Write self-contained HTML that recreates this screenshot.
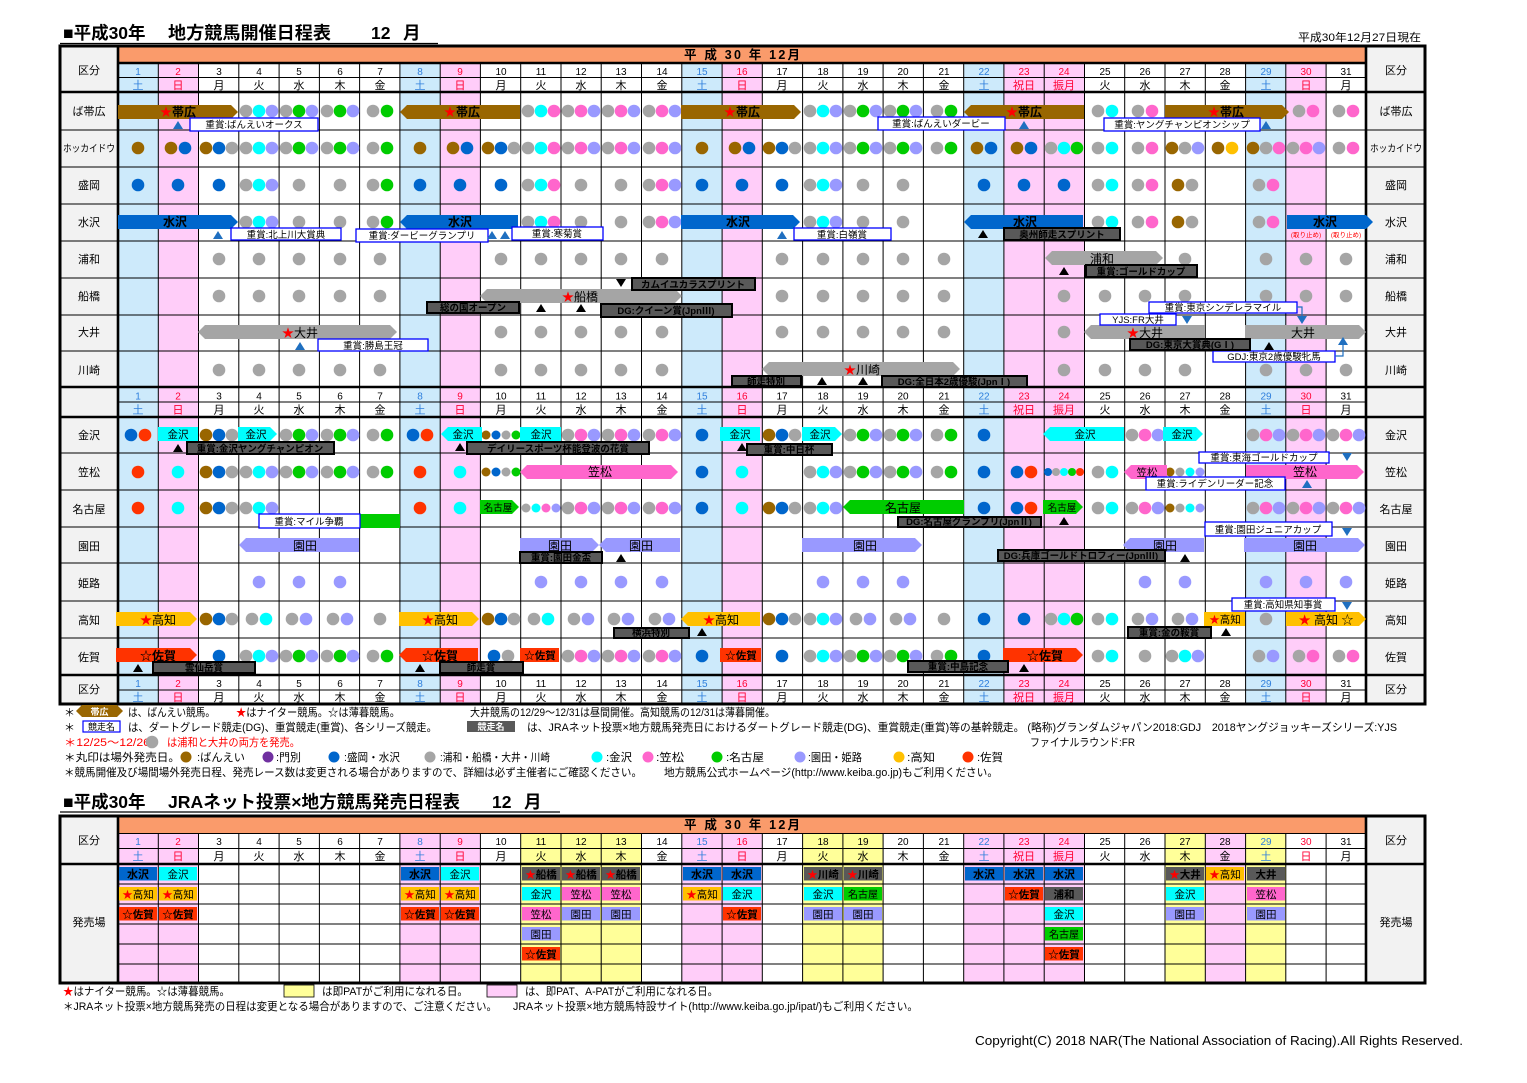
<!DOCTYPE html>
<html><head><meta charset="utf-8"><style>
html,body{margin:0;padding:0;background:#fff;}
svg{display:block}
text{font-family:"Liberation Sans","Noto Sans CJK JP",sans-serif;fill:#000}
.gy{fill:#a5a5a5}.br{fill:#996600}.bl{fill:#0066cc}.cy{fill:#00ffff}.pk{fill:#ff66cc}.gr{fill:#00cc00}.lv{fill:#9999ff}.or{fill:#ffc000}.rd{fill:#ff3300}.pu{fill:#7030a0}.dg{fill:#595959}
.lb{font-size:11px;text-anchor:middle}
.dn{font-size:10px;text-anchor:middle}
.sa{fill:#2f7fdc}.su{fill:#ff0033}
.bb{fill:#fff;stroke:#0000ff;stroke-width:1.3}
.db{fill:#595959;stroke:#000;stroke-width:2}
.bt{font-size:9.5px;text-anchor:middle}
.dt{font-size:9.5px;text-anchor:middle;fill:#fff;font-weight:bold}
.wt{fill:#fff;font-weight:bold;font-size:12px;text-anchor:middle}
.kt{fill:#222;font-size:12px;text-anchor:middle}
.ks{fill:#222;font-size:10.5px;text-anchor:middle}
.st{fill:#ff0000}
.lg{font-size:11px}
.ti{font-size:17.5px;font-weight:bold}
</style></head><body>
<svg width="1527" height="1083" viewBox="0 0 1527 1083" xmlns="http://www.w3.org/2000/svg">
<rect width="1527" height="1083" fill="#fff"/>

<!-- ===== TITLE 1 ===== -->
<text class="ti" x="63" y="39">■平成30年</text>
<text class="ti" x="168" y="39" textLength="163" lengthAdjust="spacingAndGlyphs">地方競馬開催日程表</text>
<text class="ti" x="371" y="39">12</text>
<text class="ti" x="403" y="39">月</text>
<line x1="60" y1="43.5" x2="438" y2="43.5" stroke="#000" stroke-width="1.2"/>
<text x="1298" y="41" font-size="11" textLength="123" lengthAdjust="spacingAndGlyphs">平成30年12月27日現在</text>

<!-- ===== TOP TABLE BACKGROUND ===== -->
<rect x="60" y="46" width="1365" height="658" fill="#fff"/>
<rect x="60" y="46" width="58" height="658" fill="#f2f2f2"/>
<rect x="1366" y="46" width="59" height="658" fill="#f2f2f2"/>
<g fill="#cdeafb">
<rect x="118" y="63" width="40.3" height="641"/><rect x="399.9" y="63" width="40.3" height="641"/><rect x="681.8" y="63" width="40.3" height="641"/><rect x="963.7" y="63" width="40.3" height="641"/><rect x="1245.6" y="63" width="40.3" height="641"/>
</g>
<g fill="#ffcdf9">
<rect x="158.3" y="63" width="40.3" height="641"/><rect x="440.2" y="63" width="40.3" height="641"/><rect x="722.1" y="63" width="40.3" height="641"/><rect x="1003.9" y="63" width="80.6" height="641"/><rect x="1285.8" y="63" width="40.3" height="641"/>
</g>
<rect x="118" y="47" width="1248" height="16" fill="#fa9b6b"/>
<text x="684" y="59" font-size="12.5" font-weight="bold" textLength="116" lengthAdjust="spacing">平 成 30 年 12月</text>

<!-- grid -->
<path d="M158.3 63V704M198.5 63V704M238.8 63V704M279.1 63V704M319.4 63V704M359.6 63V704M399.9 63V704M440.2 63V704M480.4 63V704M520.7 63V704M561 63V704M601.2 63V704M641.5 63V704M681.8 63V704M722.1 63V704M762.3 63V704M802.6 63V704M842.9 63V704M883.1 63V704M923.4 63V704M963.7 63V704M1003.9 63V704M1044.2 63V704M1084.5 63V704M1124.7 63V704M1165 63V704M1205.3 63V704M1245.6 63V704M1285.8 63V704M1326.1 63V704" stroke="#000" stroke-width="1" fill="none"/>
<path d="M118 77.5H1366M118 402H1366M118 690H1366M60 130H1425M60 167H1425M60 204H1425M60 241H1425M60 278H1425M60 315H1425M60 351H1425M60 453H1425M60 490H1425M60 527H1425M60 563H1425M60 601H1425M60 638H1425" stroke="#000" stroke-width="1" fill="none"/>
<path d="M118 63H1366M60 92H1425M60 387H1425M60 417H1425M60 675H1425M118 46V704M1366 46V704" stroke="#000" stroke-width="2.6" fill="none"/>
<rect x="60" y="46" width="1365" height="658" fill="none" stroke="#000" stroke-width="3"/>

<!-- label columns -->
<g class="lb">
<text x="89" y="74">区分</text><text x="1396" y="74">区分</text>
<text x="89" y="115">ば帯広</text><text x="1396" y="115">ば帯広</text>
<text x="63" y="152" font-size="10" style="text-anchor:start" textLength="52" lengthAdjust="spacingAndGlyphs">ホッカイドウ</text><text x="1370" y="152" font-size="10" style="text-anchor:start" textLength="52" lengthAdjust="spacingAndGlyphs">ホッカイドウ</text>
<text x="89" y="189">盛岡</text><text x="1396" y="189">盛岡</text>
<text x="89" y="226">水沢</text><text x="1396" y="226">水沢</text>
<text x="89" y="263">浦和</text><text x="1396" y="263">浦和</text>
<text x="89" y="300">船橋</text><text x="1396" y="300">船橋</text>
<text x="89" y="336">大井</text><text x="1396" y="336">大井</text>
<text x="89" y="374">川崎</text><text x="1396" y="374">川崎</text>
<text x="89" y="439">金沢</text><text x="1396" y="439">金沢</text>
<text x="89" y="476">笠松</text><text x="1396" y="476">笠松</text>
<text x="89" y="513">名古屋</text><text x="1396" y="513">名古屋</text>
<text x="89" y="550">園田</text><text x="1396" y="550">園田</text>
<text x="89" y="587">姫路</text><text x="1396" y="587">姫路</text>
<text x="89" y="624">高知</text><text x="1396" y="624">高知</text>
<text x="89" y="661">佐賀</text><text x="1396" y="661">佐賀</text>
<text x="89" y="693">区分</text><text x="1396" y="693">区分</text>
</g>

<!-- header rows (top) -->
<g class="dn" transform="translate(0,75)">
<text class="sa" x="138">1</text><text class="su" x="178">2</text><text x="219">3</text><text x="259">4</text><text x="299">5</text><text x="340">6</text><text x="380">7</text><text class="sa" x="420">8</text><text class="su" x="460">9</text><text x="501">10</text><text x="541">11</text><text x="581">12</text><text x="621">13</text><text x="662">14</text><text class="sa" x="702">15</text><text class="su" x="742">16</text><text x="782">17</text><text x="823">18</text><text x="863">19</text><text x="903">20</text><text x="944">21</text><text class="sa" x="984">22</text><text class="su" x="1024">23</text><text class="su" x="1064">24</text><text x="1105">25</text><text x="1145">26</text><text x="1185">27</text><text x="1225">28</text><text class="sa" x="1266">29</text><text class="su" x="1306">30</text><text x="1346">31</text>
<g font-size="11"><text class="sa" x="138" y="14">土</text><text class="su" x="178" y="14">日</text><text x="219" y="14">月</text><text x="259" y="14">火</text><text x="299" y="14">水</text><text x="340" y="14">木</text><text x="380" y="14">金</text><text class="sa" x="420" y="14">土</text><text class="su" x="460" y="14">日</text><text x="501" y="14">月</text><text x="541" y="14">火</text><text x="581" y="14">水</text><text x="621" y="14">木</text><text x="662" y="14">金</text><text class="sa" x="702" y="14">土</text><text class="su" x="742" y="14">日</text><text x="782" y="14">月</text><text x="823" y="14">火</text><text x="863" y="14">水</text><text x="903" y="14">木</text><text x="944" y="14">金</text><text class="sa" x="984" y="14">土</text><text class="su" x="1024" y="14">祝日</text><text class="su" x="1064" y="14">振月</text><text x="1105" y="14">火</text><text x="1145" y="14">水</text><text x="1185" y="14">木</text><text x="1225" y="14">金</text><text class="sa" x="1266" y="14">土</text><text class="su" x="1306" y="14">日</text><text x="1346" y="14">月</text></g>
</g>
<g class="dn" transform="translate(0,399.5)">
<text class="sa" x="138">1</text><text class="su" x="178">2</text><text x="219">3</text><text x="259">4</text><text x="299">5</text><text x="340">6</text><text x="380">7</text><text class="sa" x="420">8</text><text class="su" x="460">9</text><text x="501">10</text><text x="541">11</text><text x="581">12</text><text x="621">13</text><text x="662">14</text><text class="sa" x="702">15</text><text class="su" x="742">16</text><text x="782">17</text><text x="823">18</text><text x="863">19</text><text x="903">20</text><text x="944">21</text><text class="sa" x="984">22</text><text class="su" x="1024">23</text><text class="su" x="1064">24</text><text x="1105">25</text><text x="1145">26</text><text x="1185">27</text><text x="1225">28</text><text class="sa" x="1266">29</text><text class="su" x="1306">30</text><text x="1346">31</text>
<g font-size="11"><text class="sa" x="138" y="14">土</text><text class="su" x="178" y="14">日</text><text x="219" y="14">月</text><text x="259" y="14">火</text><text x="299" y="14">水</text><text x="340" y="14">木</text><text x="380" y="14">金</text><text class="sa" x="420" y="14">土</text><text class="su" x="460" y="14">日</text><text x="501" y="14">月</text><text x="541" y="14">火</text><text x="581" y="14">水</text><text x="621" y="14">木</text><text x="662" y="14">金</text><text class="sa" x="702" y="14">土</text><text class="su" x="742" y="14">日</text><text x="782" y="14">月</text><text x="823" y="14">火</text><text x="863" y="14">水</text><text x="903" y="14">木</text><text x="944" y="14">金</text><text class="sa" x="984" y="14">土</text><text class="su" x="1024" y="14">祝日</text><text class="su" x="1064" y="14">振月</text><text x="1105" y="14">火</text><text x="1145" y="14">水</text><text x="1185" y="14">木</text><text x="1225" y="14">金</text><text class="sa" x="1266" y="14">土</text><text class="su" x="1306" y="14">日</text><text x="1346" y="14">月</text></g>
</g>
<g class="dn" transform="translate(0,687)">
<text class="sa" x="138">1</text><text class="su" x="178">2</text><text x="219">3</text><text x="259">4</text><text x="299">5</text><text x="340">6</text><text x="380">7</text><text class="sa" x="420">8</text><text class="su" x="460">9</text><text x="501">10</text><text x="541">11</text><text x="581">12</text><text x="621">13</text><text x="662">14</text><text class="sa" x="702">15</text><text class="su" x="742">16</text><text x="782">17</text><text x="823">18</text><text x="863">19</text><text x="903">20</text><text x="944">21</text><text class="sa" x="984">22</text><text class="su" x="1024">23</text><text class="su" x="1064">24</text><text x="1105">25</text><text x="1145">26</text><text x="1185">27</text><text x="1225">28</text><text class="sa" x="1266">29</text><text class="su" x="1306">30</text><text x="1346">31</text>
<g font-size="11"><text class="sa" x="138" y="14">土</text><text class="su" x="178" y="14">日</text><text x="219" y="14">月</text><text x="259" y="14">火</text><text x="299" y="14">水</text><text x="340" y="14">木</text><text x="380" y="14">金</text><text class="sa" x="420" y="14">土</text><text class="su" x="460" y="14">日</text><text x="501" y="14">月</text><text x="541" y="14">火</text><text x="581" y="14">水</text><text x="621" y="14">木</text><text x="662" y="14">金</text><text class="sa" x="702" y="14">土</text><text class="su" x="742" y="14">日</text><text x="782" y="14">月</text><text x="823" y="14">火</text><text x="863" y="14">水</text><text x="903" y="14">木</text><text x="944" y="14">金</text><text class="sa" x="984" y="14">土</text><text class="su" x="1024" y="14">祝日</text><text class="su" x="1064" y="14">振月</text><text x="1105" y="14">火</text><text x="1145" y="14">水</text><text x="1185" y="14">木</text><text x="1225" y="14">金</text><text class="sa" x="1266" y="14">土</text><text class="su" x="1306" y="14">日</text><text x="1346" y="14">月</text></g>
</g>

<!-- ===== DOTS ===== -->
<g transform="translate(0,111)">
<g class="gy"><circle cx="246" r="6.3"/><circle cx="286" r="6.3"/><circle cx="327" r="6.3"/><circle cx="373" r="6.3"/><circle cx="528" r="6.3"/><circle cx="568" r="6.3"/><circle cx="608" r="6.3"/><circle cx="649" r="6.3"/><circle cx="810" r="6.3"/><circle cx="850" r="6.3"/><circle cx="890" r="6.3"/><circle cx="937" r="6.3"/><circle cx="1098" r="6.3"/><circle cx="1138" r="6.3"/><circle cx="1299" r="6.3"/><circle cx="1339" r="6.3"/></g>
<g class="cy"><circle cx="259" r="6.3"/><circle cx="541" r="6.3"/><circle cx="823" r="6.3"/><circle cx="1112" r="6.3"/></g>
<g class="lv"><circle cx="272" r="6.3"/><circle cx="312" r="6.3"/><circle cx="353" r="6.3"/><circle cx="594" r="6.3"/><circle cx="634" r="6.3"/><circle cx="675" r="6.3"/><circle cx="836" r="6.3"/><circle cx="876" r="6.3"/><circle cx="916" r="6.3"/></g>
<g class="gr"><circle cx="299" r="6.3"/><circle cx="340" r="6.3"/><circle cx="387" r="6.3"/><circle cx="863" r="6.3"/><circle cx="903" r="6.3"/><circle cx="951" r="6.3"/></g>
<g class="pk"><circle cx="554" r="6.3"/><circle cx="581" r="6.3"/><circle cx="621" r="6.3"/><circle cx="662" r="6.3"/><circle cx="1152" r="6.3"/><circle cx="1313" r="6.3"/><circle cx="1353" r="6.3"/></g>
</g>
<g transform="translate(0,148)">
<g class="br"><circle cx="138" r="6.3"/><circle cx="171" r="6.3"/><circle cx="206" r="6.3"/><circle cx="420" r="6.3"/><circle cx="453" r="6.3"/><circle cx="488" r="6.3"/><circle cx="702" r="6.3"/><circle cx="735" r="6.3"/><circle cx="769" r="6.3"/><circle cx="977" r="6.3"/><circle cx="1017" r="6.3"/><circle cx="1172" r="6.3"/><circle cx="1218" r="6.3"/><circle cx="1253" r="6.3"/></g>
<g class="bl"><circle cx="185" r="6.3"/><circle cx="219" r="6.3"/><circle cx="467" r="6.3"/><circle cx="501" r="6.3"/><circle cx="749" r="6.3"/><circle cx="782" r="6.3"/><circle cx="991" r="6.3"/><circle cx="1031" r="6.3"/></g>
<g class="gy"><circle cx="232" r="6.3"/><circle cx="246" r="6.3"/><circle cx="286" r="6.3"/><circle cx="327" r="6.3"/><circle cx="373" r="6.3"/><circle cx="514" r="6.3"/><circle cx="528" r="6.3"/><circle cx="568" r="6.3"/><circle cx="608" r="6.3"/><circle cx="649" r="6.3"/><circle cx="795" r="6.3"/><circle cx="810" r="6.3"/><circle cx="850" r="6.3"/><circle cx="890" r="6.3"/><circle cx="937" r="6.3"/><circle cx="1051" r="6.3"/><circle cx="1098" r="6.3"/><circle cx="1138" r="6.3"/><circle cx="1185" r="6.3"/><circle cx="1266" r="6.3"/><circle cx="1293" r="6.3"/><circle cx="1339" r="6.3"/></g>
<g class="cy"><circle cx="259" r="6.3"/><circle cx="541" r="6.3"/><circle cx="823" r="6.3"/><circle cx="1064" r="6.3"/><circle cx="1112" r="6.3"/></g>
<g class="lv"><circle cx="272" r="6.3"/><circle cx="312" r="6.3"/><circle cx="353" r="6.3"/><circle cx="594" r="6.3"/><circle cx="634" r="6.3"/><circle cx="675" r="6.3"/><circle cx="836" r="6.3"/><circle cx="876" r="6.3"/><circle cx="916" r="6.3"/><circle cx="1198" r="6.3"/><circle cx="1319" r="6.3"/></g>
<g class="gr"><circle cx="299" r="6.3"/><circle cx="340" r="6.3"/><circle cx="387" r="6.3"/><circle cx="863" r="6.3"/><circle cx="903" r="6.3"/><circle cx="951" r="6.3"/><circle cx="1077" r="6.3"/></g>
<g class="pk"><circle cx="554" r="6.3"/><circle cx="581" r="6.3"/><circle cx="621" r="6.3"/><circle cx="662" r="6.3"/><circle cx="1152" r="6.3"/><circle cx="1279" r="6.3"/><circle cx="1306" r="6.3"/><circle cx="1353" r="6.3"/></g>
<g class="or"><circle cx="1232" r="6.3"/></g>
</g>
<g transform="translate(0,185)">
<g class="bl"><circle cx="138" r="6.3"/><circle cx="178" r="6.3"/><circle cx="219" r="6.3"/><circle cx="420" r="6.3"/><circle cx="460" r="6.3"/><circle cx="501" r="6.3"/><circle cx="702" r="6.3"/><circle cx="742" r="6.3"/><circle cx="782" r="6.3"/><circle cx="984" r="6.3"/><circle cx="1024" r="6.3"/><circle cx="1064" r="6.3"/></g>
<g class="gy"><circle cx="246" r="6.3"/><circle cx="299" r="6.3"/><circle cx="340" r="6.3"/><circle cx="373" r="6.3"/><circle cx="528" r="6.3"/><circle cx="581" r="6.3"/><circle cx="621" r="6.3"/><circle cx="649" r="6.3"/><circle cx="810" r="6.3"/><circle cx="863" r="6.3"/><circle cx="903" r="6.3"/><circle cx="1098" r="6.3"/><circle cx="1138" r="6.3"/><circle cx="1192" r="6.3"/><circle cx="1259" r="6.3"/></g>
<g class="cy"><circle cx="259" r="6.3"/><circle cx="541" r="6.3"/><circle cx="823" r="6.3"/><circle cx="1112" r="6.3"/></g>
<g class="lv"><circle cx="272" r="6.3"/><circle cx="675" r="6.3"/><circle cx="836" r="6.3"/></g>
<g class="gr"><circle cx="387" r="6.3"/></g>
<g class="pk"><circle cx="554" r="6.3"/><circle cx="662" r="6.3"/><circle cx="1152" r="6.3"/><circle cx="1273" r="6.3"/></g>
<g class="br"><circle cx="1178" r="6.3"/></g>
</g>
<g transform="translate(0,222)">
<g class="gy"><circle cx="246" r="6.3"/><circle cx="299" r="6.3"/><circle cx="340" r="6.3"/><circle cx="373" r="6.3"/><circle cx="528" r="6.3"/><circle cx="581" r="6.3"/><circle cx="621" r="6.3"/><circle cx="649" r="6.3"/><circle cx="810" r="6.3"/><circle cx="863" r="6.3"/><circle cx="903" r="6.3"/><circle cx="1098" r="6.3"/><circle cx="1138" r="6.3"/><circle cx="1192" r="6.3"/><circle cx="1259" r="6.3"/></g>
<g class="cy"><circle cx="259" r="6.3"/><circle cx="541" r="6.3"/><circle cx="823" r="6.3"/><circle cx="1112" r="6.3"/></g>
<g class="lv"><circle cx="272" r="6.3"/><circle cx="675" r="6.3"/><circle cx="836" r="6.3"/></g>
<g class="gr"><circle cx="387" r="6.3"/></g>
<g class="pk"><circle cx="554" r="6.3"/><circle cx="662" r="6.3"/><circle cx="1152" r="6.3"/><circle cx="1273" r="6.3"/></g>
<g class="br"><circle cx="1178" r="6.3"/></g>
</g>
<g class="gy" transform="translate(0,259)"><circle cx="219" r="6.3"/><circle cx="259" r="6.3"/><circle cx="299" r="6.3"/><circle cx="340" r="6.3"/><circle cx="380" r="6.3"/><circle cx="501" r="6.3"/><circle cx="541" r="6.3"/><circle cx="581" r="6.3"/><circle cx="621" r="6.3"/><circle cx="662" r="6.3"/><circle cx="782" r="6.3"/><circle cx="823" r="6.3"/><circle cx="863" r="6.3"/><circle cx="903" r="6.3"/><circle cx="944" r="6.3"/><circle cx="1185" r="6.3"/><circle cx="1266" r="6.3"/><circle cx="1306" r="6.3"/><circle cx="1346" r="6.3"/></g>
<g class="gy" transform="translate(0,296)"><circle cx="219" r="6.3"/><circle cx="259" r="6.3"/><circle cx="299" r="6.3"/><circle cx="340" r="6.3"/><circle cx="380" r="6.3"/><circle cx="782" r="6.3"/><circle cx="823" r="6.3"/><circle cx="863" r="6.3"/><circle cx="903" r="6.3"/><circle cx="944" r="6.3"/><circle cx="1064" r="6.3"/><circle cx="1105" r="6.3"/><circle cx="1145" r="6.3"/><circle cx="1185" r="6.3"/><circle cx="1266" r="6.3"/><circle cx="1306" r="6.3"/><circle cx="1346" r="6.3"/></g>
<g class="gy" transform="translate(0,332)"><circle cx="501" r="6.3"/><circle cx="541" r="6.3"/><circle cx="581" r="6.3"/><circle cx="621" r="6.3"/><circle cx="662" r="6.3"/><circle cx="782" r="6.3"/><circle cx="823" r="6.3"/><circle cx="863" r="6.3"/><circle cx="903" r="6.3"/><circle cx="944" r="6.3"/><circle cx="1064" r="6.3"/></g>
<g class="gy" transform="translate(0,370)"><circle cx="219" r="6.3"/><circle cx="259" r="6.3"/><circle cx="299" r="6.3"/><circle cx="340" r="6.3"/><circle cx="380" r="6.3"/><circle cx="501" r="6.3"/><circle cx="541" r="6.3"/><circle cx="581" r="6.3"/><circle cx="621" r="6.3"/><circle cx="662" r="6.3"/><circle cx="1064" r="6.3"/><circle cx="1105" r="6.3"/><circle cx="1145" r="6.3"/><circle cx="1185" r="6.3"/><circle cx="1266" r="6.3"/><circle cx="1306" r="6.3"/><circle cx="1346" r="6.3"/></g>
<g transform="translate(0,435)">
<g class="bl"><circle cx="131" r="6.3"/><circle cx="219" r="6.3"/><circle cx="413" r="6.3"/><circle cx="702" r="6.3"/><circle cx="782" r="6.3"/><circle cx="984" r="6.3"/><circle cx="496" r="4.5"/></g>
<g class="rd"><circle cx="145" r="6.3"/><circle cx="427" r="6.3"/></g>
<g class="br"><circle cx="206" r="6.3"/><circle cx="769" r="6.3"/><circle cx="486" r="4.5"/></g>
<g class="gy"><circle cx="232" r="6.3"/><circle cx="286" r="6.3"/><circle cx="327" r="6.3"/><circle cx="373" r="6.3"/><circle cx="568" r="6.3"/><circle cx="608" r="6.3"/><circle cx="649" r="6.3"/><circle cx="795" r="6.3"/><circle cx="850" r="6.3"/><circle cx="890" r="6.3"/><circle cx="937" r="6.3"/><circle cx="1132" r="6.3"/><circle cx="1253" r="6.3"/><circle cx="1293" r="6.3"/><circle cx="1333" r="6.3"/><circle cx="506" r="4.5"/></g>
<g class="gr"><circle cx="299" r="6.3"/><circle cx="340" r="6.3"/><circle cx="387" r="6.3"/><circle cx="863" r="6.3"/><circle cx="903" r="6.3"/><circle cx="951" r="6.3"/><circle cx="516" r="4.5"/></g>
<g class="lv"><circle cx="312" r="6.3"/><circle cx="353" r="6.3"/><circle cx="594" r="6.3"/><circle cx="634" r="6.3"/><circle cx="675" r="6.3"/><circle cx="876" r="6.3"/><circle cx="916" r="6.3"/><circle cx="1158" r="6.3"/><circle cx="1279" r="6.3"/><circle cx="1319" r="6.3"/><circle cx="1359" r="6.3"/></g>
<g class="pk"><circle cx="581" r="6.3"/><circle cx="621" r="6.3"/><circle cx="662" r="6.3"/><circle cx="1145" r="6.3"/><circle cx="1266" r="6.3"/><circle cx="1306" r="6.3"/><circle cx="1346" r="6.3"/></g>
</g>
<g transform="translate(0,472)">
<g class="rd"><circle cx="138" r="6.3"/><circle cx="420" r="6.3"/><circle cx="1031" r="6.3"/><circle cx="1080" r="4"/></g>
<g class="cy"><circle cx="178" r="6.3"/><circle cx="259" r="6.3"/><circle cx="460" r="6.3"/><circle cx="742" r="6.3"/><circle cx="823" r="6.3"/><circle cx="1112" r="6.3"/><circle cx="1064" r="4"/><circle cx="1190" r="4.5"/></g>
<g class="br"><circle cx="206" r="6.3"/><circle cx="486" r="4.5"/><circle cx="1170" r="4.5"/></g>
<g class="bl"><circle cx="219" r="6.3"/><circle cx="702" r="6.3"/><circle cx="984" r="6.3"/><circle cx="1017" r="6.3"/><circle cx="496" r="4.5"/><circle cx="1048" r="4"/></g>
<g class="gy"><circle cx="232" r="6.3"/><circle cx="246" r="6.3"/><circle cx="286" r="6.3"/><circle cx="327" r="6.3"/><circle cx="373" r="6.3"/><circle cx="810" r="6.3"/><circle cx="850" r="6.3"/><circle cx="890" r="6.3"/><circle cx="937" r="6.3"/><circle cx="1098" r="6.3"/><circle cx="506" r="4.5"/><circle cx="1056" r="4"/><circle cx="1180" r="4.5"/></g>
<g class="lv"><circle cx="272" r="6.3"/><circle cx="312" r="6.3"/><circle cx="353" r="6.3"/><circle cx="836" r="6.3"/><circle cx="876" r="6.3"/><circle cx="916" r="6.3"/><circle cx="1200" r="4.5"/></g>
<g class="gr"><circle cx="299" r="6.3"/><circle cx="340" r="6.3"/><circle cx="387" r="6.3"/><circle cx="863" r="6.3"/><circle cx="903" r="6.3"/><circle cx="951" r="6.3"/><circle cx="516" r="4.5"/><circle cx="1072" r="4"/></g>
</g>
<g transform="translate(0,508)">
<g class="rd"><circle cx="138" r="6.3"/><circle cx="420" r="6.3"/><circle cx="1031" r="6.3"/></g>
<g class="cy"><circle cx="178" r="6.3"/><circle cx="259" r="6.3"/><circle cx="460" r="6.3"/><circle cx="742" r="6.3"/><circle cx="823" r="6.3"/><circle cx="1112" r="6.3"/><circle cx="536" r="4.5"/><circle cx="1190" r="4.5"/></g>
<g class="br"><circle cx="206" r="6.3"/><circle cx="769" r="6.3"/><circle cx="1170" r="4.5"/></g>
<g class="bl"><circle cx="219" r="6.3"/><circle cx="702" r="6.3"/><circle cx="782" r="6.3"/><circle cx="984" r="6.3"/><circle cx="1017" r="6.3"/></g>
<g class="gy"><circle cx="232" r="6.3"/><circle cx="246" r="6.3"/><circle cx="568" r="6.3"/><circle cx="608" r="6.3"/><circle cx="649" r="6.3"/><circle cx="795" r="6.3"/><circle cx="810" r="6.3"/><circle cx="1098" r="6.3"/><circle cx="1132" r="6.3"/><circle cx="1253" r="6.3"/><circle cx="1293" r="6.3"/><circle cx="1333" r="6.3"/><circle cx="526" r="4.5"/><circle cx="1180" r="4.5"/></g>
<g class="lv"><circle cx="272" r="6.3"/><circle cx="594" r="6.3"/><circle cx="634" r="6.3"/><circle cx="675" r="6.3"/><circle cx="836" r="6.3"/><circle cx="1158" r="6.3"/><circle cx="1279" r="6.3"/><circle cx="1319" r="6.3"/><circle cx="1359" r="6.3"/><circle cx="556" r="4.5"/><circle cx="1200" r="4.5"/></g>
<g class="pk"><circle cx="581" r="6.3"/><circle cx="621" r="6.3"/><circle cx="662" r="6.3"/><circle cx="1145" r="6.3"/><circle cx="1266" r="6.3"/><circle cx="1306" r="6.3"/><circle cx="1346" r="6.3"/><circle cx="546" r="4.5"/></g>
</g>
<g class="lv" transform="translate(0,582)"><circle cx="259" r="6.3"/><circle cx="299" r="6.3"/><circle cx="340" r="6.3"/><circle cx="541" r="6.3"/><circle cx="581" r="6.3"/><circle cx="621" r="6.3"/><circle cx="662" r="6.3"/><circle cx="823" r="6.3"/><circle cx="863" r="6.3"/><circle cx="903" r="6.3"/><circle cx="1145" r="6.3"/><circle cx="1185" r="6.3"/><circle cx="1266" r="6.3"/><circle cx="1306" r="6.3"/><circle cx="1346" r="6.3"/></g>
<g transform="translate(0,619)">
<g class="br"><circle cx="206" r="6.3"/><circle cx="488" r="6.3"/><circle cx="769" r="6.3"/></g>
<g class="bl"><circle cx="219" r="6.3"/><circle cx="501" r="6.3"/><circle cx="782" r="6.3"/><circle cx="984" r="6.3"/><circle cx="1024" r="6.3"/></g>
<g class="gy"><circle cx="232" r="6.3"/><circle cx="252" r="6.3"/><circle cx="292" r="6.3"/><circle cx="333" r="6.3"/><circle cx="380" r="6.3"/><circle cx="514" r="6.3"/><circle cx="534" r="6.3"/><circle cx="574" r="6.3"/><circle cx="614" r="6.3"/><circle cx="655" r="6.3"/><circle cx="795" r="6.3"/><circle cx="810" r="6.3"/><circle cx="856" r="6.3"/><circle cx="896" r="6.3"/><circle cx="944" r="6.3"/><circle cx="1051" r="6.3"/><circle cx="1098" r="6.3"/><circle cx="1138" r="6.3"/><circle cx="1178" r="6.3"/><circle cx="1266" r="6.3"/></g>
<g class="cy"><circle cx="266" r="6.3"/><circle cx="548" r="6.3"/><circle cx="823" r="6.3"/><circle cx="1064" r="6.3"/><circle cx="1112" r="6.3"/></g>
<g class="lv"><circle cx="306" r="6.3"/><circle cx="347" r="6.3"/><circle cx="588" r="6.3"/><circle cx="628" r="6.3"/><circle cx="669" r="6.3"/><circle cx="836" r="6.3"/><circle cx="870" r="6.3"/><circle cx="910" r="6.3"/><circle cx="1152" r="6.3"/><circle cx="1192" r="6.3"/></g>
<g class="gr"><circle cx="1077" r="6.3"/></g>
</g>
<g transform="translate(0,656)">
<g class="bl"><circle cx="219" r="6.3"/><circle cx="494" r="6.3"/><circle cx="702" r="6.3"/><circle cx="782" r="6.3"/><circle cx="984" r="6.3"/></g>
<g class="gy"><circle cx="246" r="6.3"/><circle cx="286" r="6.3"/><circle cx="327" r="6.3"/><circle cx="373" r="6.3"/><circle cx="508" r="6.3"/><circle cx="568" r="6.3"/><circle cx="608" r="6.3"/><circle cx="649" r="6.3"/><circle cx="810" r="6.3"/><circle cx="850" r="6.3"/><circle cx="890" r="6.3"/><circle cx="937" r="6.3"/><circle cx="1098" r="6.3"/><circle cx="1145" r="6.3"/><circle cx="1172" r="6.3"/><circle cx="1259" r="6.3"/><circle cx="1299" r="6.3"/><circle cx="1339" r="6.3"/></g>
<g class="cy"><circle cx="259" r="6.3"/><circle cx="823" r="6.3"/><circle cx="1112" r="6.3"/><circle cx="1185" r="6.3"/></g>
<g class="lv"><circle cx="272" r="6.3"/><circle cx="312" r="6.3"/><circle cx="353" r="6.3"/><circle cx="594" r="6.3"/><circle cx="634" r="6.3"/><circle cx="675" r="6.3"/><circle cx="836" r="6.3"/><circle cx="876" r="6.3"/><circle cx="916" r="6.3"/><circle cx="1198" r="6.3"/><circle cx="1273" r="6.3"/></g>
<g class="gr"><circle cx="299" r="6.3"/><circle cx="340" r="6.3"/><circle cx="387" r="6.3"/><circle cx="863" r="6.3"/><circle cx="903" r="6.3"/><circle cx="951" r="6.3"/></g>
<g class="pk"><circle cx="581" r="6.3"/><circle cx="621" r="6.3"/><circle cx="662" r="6.3"/><circle cx="1313" r="6.3"/><circle cx="1353" r="6.3"/></g>
</g>

<!-- ===== BARS ===== -->
<g class="br">
<polygon points="118,105 231,105 238,112 231,119 118,119"/>
<polygon points="400,112 407,105 520,105 520,119 407,119"/>
<polygon points="681,105 794,105 801,112 794,119 681,119"/>
<polygon points="964,112 971,105 1084,105 1084,119 971,119"/>
<polygon points="1165,105 1282,105 1289,112 1282,119 1165,119"/>
</g>
<g class="wt"><text x="178" y="116"><tspan class="st">★</tspan>帯広</text><text x="462" y="116"><tspan class="st">★</tspan>帯広</text><text x="742" y="116"><tspan class="st">★</tspan>帯広</text><text x="1024" y="116"><tspan class="st">★</tspan>帯広</text><text x="1226" y="116"><tspan class="st">★</tspan>帯広</text></g>

<g class="bl">
<polygon points="118,215 231,215 238,222 231,229 118,229"/>
<polygon points="400,222 407,215 518,215 518,229 407,229"/>
<polygon points="681,215 793,215 800,222 793,229 681,229"/>
<polygon points="964,222 971,215 1083,215 1083,229 971,229"/>
<polygon points="1287,215 1366,215 1373,222 1366,229 1287,229"/>
</g>
<g class="wt"><text x="175" y="226">水沢</text><text x="460" y="226">水沢</text><text x="738" y="226">水沢</text><text x="1025" y="226">水沢</text><text x="1325" y="226">水沢</text></g>
<text x="1306" y="237" font-size="6.5" text-anchor="middle" style="fill:#f00">(取り止め)</text>
<text x="1346" y="237" font-size="6.5" text-anchor="middle" style="fill:#f00">(取り止め)</text>

<g fill="#a5a5a5">
<polygon points="1045,258 1052,251 1156,251 1163,258 1156,265 1052,265"/>
<polygon points="480,296 487,289 675,289 682,296 675,303 487,303"/>
<polygon points="198,332 205,325 390,325 397,332 390,339 205,339"/>
<polygon points="1084,332 1091,325 1205,325 1205,339 1091,339"/>
<polygon points="1245,325 1359,325 1366,332 1359,339 1245,339"/>
<polygon points="762,369 769,362 953,362 960,369 953,376 769,376"/>
</g>
<g class="kt"><text x="1102" y="263">浦和</text><text x="580" y="301"><tspan class="st">★</tspan>船橋</text><text x="300" y="337"><tspan class="st">★</tspan>大井</text><text x="1145" y="337"><tspan class="st">★</tspan>大井</text><text x="1303" y="337">大井</text><text x="862" y="374"><tspan class="st">★</tspan>川崎</text></g>

<g class="cy">
<rect x="158" y="427" width="40" height="14"/>
<polygon points="238,427 270,427 277,434 270,441 238,441"/>
<polygon points="441,434 448,427 482,427 482,441 448,441"/>
<rect x="520" y="427" width="41" height="14"/>
<rect x="720" y="427" width="40" height="14"/>
<polygon points="802,427 835,427 842,434 835,441 802,441"/>
<polygon points="1043,434 1050,427 1124,427 1124,441 1050,441"/>
<polygon points="1163,427 1196,427 1203,434 1196,441 1163,441"/>
</g>
<g class="ks"><text x="178" y="438">金沢</text><text x="256" y="438">金沢</text><text x="463" y="438">金沢</text><text x="541" y="438">金沢</text><text x="740" y="438">金沢</text><text x="820" y="438">金沢</text><text x="1085" y="438">金沢</text><text x="1182" y="438">金沢</text></g>

<g class="pk">
<polygon points="520,472 527,465 671,465 678,472 671,479 527,479"/>
<polygon points="1124,472 1131,465 1167,465 1167,479 1131,479"/>
<polygon points="1246,465 1357,465 1364,472 1357,479 1246,479"/>
</g>
<g class="kt"><text x="600" y="476">笠松</text><text x="1147" y="476" font-size="10.5">笠松</text><text x="1305" y="476">笠松</text></g>

<g class="gr">
<polygon points="480,500 512,500 519,507 512,514 480,514"/>
<polygon points="843,507 850,500 964,500 964,514 850,514"/>
<polygon points="1043,500 1076,500 1083,507 1076,514 1043,514"/>
<rect x="360" y="514" width="40" height="14"/>
</g>
<g class="kt"><text x="498" y="511" font-size="9.5">名古屋</text><text x="903" y="512">名古屋</text><text x="1062" y="511" font-size="9.5">名古屋</text></g>

<g class="lv">
<polygon points="239,545 246,538 359,538 359,552 246,552"/>
<polygon points="520,538 592,538 599,545 592,552 520,552"/>
<polygon points="599,545 606,538 680,538 680,552 606,552"/>
<polygon points="802,538 915,538 922,545 915,552 802,552"/>
<polygon points="1123,545 1130,538 1204,538 1204,552 1130,552"/>
<polygon points="1244,538 1358,538 1365,545 1358,552 1244,552"/>
</g>
<g class="kt"><text x="305" y="550">園田</text><text x="560" y="550">園田</text><text x="641" y="550">園田</text><text x="865" y="550">園田</text><text x="1165" y="550">園田</text><text x="1305" y="550">園田</text></g>

<g class="or">
<polygon points="116,612 190,612 197,619 190,626 116,626"/>
<polygon points="399,612 472,612 479,619 472,626 399,626"/>
<polygon points="681,619 688,612 760,612 760,626 688,626"/>
<rect x="1204" y="612" width="41" height="14"/>
<polygon points="1286,612 1359,612 1366,619 1359,626 1286,626"/>
</g>
<g class="kt"><text x="158" y="624"><tspan class="st">★</tspan>高知</text><text x="440" y="624"><tspan class="st">★</tspan>高知</text><text x="721" y="624"><tspan class="st">★</tspan>高知</text><text x="1225" y="623" font-size="10.5"><tspan class="st">★</tspan>高知</text><text x="1326" y="624"><tspan class="st">★</tspan> 高知 ☆</text></g>

<g class="rd">
<polygon points="116,648 190,648 197,655 190,662 116,662"/>
<polygon points="399,655 406,648 478,648 478,662 406,662"/>
<rect x="520" y="648" width="39" height="14"/>
<rect x="720" y="648" width="41" height="14"/>
<polygon points="1003,648 1076,648 1083,655 1076,662 1003,662"/>
</g>
<g class="wt"><text x="158" y="660">☆佐賀</text><text x="440" y="660">☆佐賀</text><text x="540" y="659" font-size="10.5">☆佐賀</text><text x="741" y="659" font-size="10.5">☆佐賀</text><text x="1045" y="660">☆佐賀</text></g>

<!-- ===== LABEL BOXES ===== -->
<g class="bb">
<rect x="190" y="118" width="128" height="13"/>
<rect x="878" y="117" width="127" height="13"/>
<rect x="1104" y="118" width="156" height="13"/>
<rect x="231" y="228" width="110" height="12"/>
<rect x="356" y="229" width="132" height="13"/>
<rect x="512" y="227" width="91" height="13"/>
<rect x="794" y="228" width="97" height="12"/>
<rect x="1149" y="302" width="148" height="11"/>
<rect x="318" y="339" width="110" height="12"/>
<rect x="1100" y="314" width="76" height="11"/>
<rect x="1213" y="351" width="122" height="11"/>
<rect x="1199" y="452" width="130" height="11"/>
<rect x="1146" y="477" width="139" height="13"/>
<rect x="259" y="514" width="101" height="14"/>
<rect x="1205" y="522" width="127" height="14"/>
<rect x="1232" y="598" width="103" height="13"/>
</g>
<g class="bt">
<text x="254" y="128">重賞:ばんえいオークス</text>
<text x="941" y="127">重賞:ばんえいダービー</text>
<text x="1182" y="128">重賞:ヤングチャンピオンシップ</text>
<text x="286" y="238">重賞:北上川大賞典</text>
<text x="422" y="239">重賞:ダービーグランプリ</text>
<text x="557" y="237">重賞:寒菊賞</text>
<text x="842" y="238">重賞:白嶺賞</text>
<text x="1223" y="311">重賞:東京シンデレラマイル</text>
<text x="373" y="349">重賞:勝島王冠</text>
<text x="1138" y="323">YJS:FR大井</text>
<text x="1274" y="360">GDJ:東京2歳優駿牝馬</text>
<text x="1264" y="461">重賞:東海ゴールドカップ</text>
<text x="1215" y="487">重賞:ライデンリーダー記念</text>
<text x="309" y="525">重賞:マイル争覇</text>
<text x="1268" y="533">重賞:園田ジュニアカップ</text>
<text x="1283" y="608">重賞:高知県知事賞</text>
</g>
<g class="db">
<rect x="1004" y="228" width="116" height="12"/>
<rect x="1086" y="265" width="111" height="12"/>
<rect x="427" y="302" width="92" height="11"/>
<rect x="601" y="304" width="131" height="13"/>
<rect x="632" y="278" width="123" height="12"/>
<rect x="1130" y="339" width="120" height="11"/>
<rect x="732" y="376" width="69" height="10"/>
<rect x="882" y="376" width="145" height="11"/>
<rect x="187" y="442" width="147" height="12"/>
<rect x="467" y="442" width="182" height="12"/>
<rect x="747" y="444" width="85" height="11"/>
<rect x="898" y="517" width="143" height="10"/>
<rect x="520" y="552" width="82" height="11"/>
<rect x="998" y="550" width="167" height="11"/>
<rect x="614" y="628" width="75" height="10"/>
<rect x="1128" y="627" width="83" height="11"/>
<rect x="153" y="662" width="102" height="11"/>
<rect x="440" y="662" width="83" height="11"/>
<rect x="908" y="661" width="100" height="11"/>
</g>
<g class="dt">
<text x="1062" y="238">奥州師走スプリント</text>
<text x="1141" y="275">重賞:ゴールドカップ</text>
<text x="473" y="311">総の国オープン</text>
<text x="666" y="314">DG:クイーン賞(JpnⅢ)</text>
<text x="693" y="288">カムイユカラスプリント</text>
<text x="1190" y="348">DG:東京大賞典(GⅠ)</text>
<text x="766" y="385">師走特別</text>
<text x="954" y="385">DG:全日本2歳優駿(JpnⅠ)</text>
<text x="260" y="452">重賞:金沢ヤングチャンピオン</text>
<text x="558" y="452">デイリースポーツ杯能登波の花賞</text>
<text x="789" y="453">重賞:中日杯</text>
<text x="969" y="525">DG:名古屋グランプリ(JpnⅡ)</text>
<text x="561" y="561">重賞:園田金盃</text>
<text x="1081" y="559">DG:兵庫ゴールドトロフィー(JpnⅢ)</text>
<text x="651" y="636">横浜特別</text>
<text x="1169" y="636">重賞:金の鞍賞</text>
<text x="204" y="671">雲仙岳賞</text>
<text x="481" y="671">師走賞</text>
<text x="958" y="670">重賞:中島記念</text>
</g>

<path d="M1297 307H1302V316M1335 356H1343V344" stroke="#1f6fc0" stroke-width="1.2" fill="none"/>

<g fill="#1f6fc0">
<polygon points="173,129 178,121 183,129"/>
<polygon points="1019,129 1024,121 1029,129"/>
<polygon points="1261,129 1266,121 1271,129"/>
<polygon points="213,239 218,231 223,239"/>
<polygon points="487,239 492,231 497,239"/>
<polygon points="500,239 505,231 510,239"/>
<polygon points="777,239 782,231 787,239"/>
<polygon points="295,350 300,342 305,350"/>
<polygon points="1302,488 1307,480 1312,488"/>
<polygon points="1338,345 1343,337 1348,345"/>
<polygon points="1297,316 1307,316 1302,324"/>
<polygon points="1182,316 1192,316 1187,324"/>
<polygon points="1342,453 1352,453 1347,461"/>
<polygon points="1342,528 1352,528 1347,536"/>
<polygon points="1342,602 1352,602 1347,610"/>
</g>
<g fill="#000">
<polygon points="978,238 983,230 988,238"/>
<polygon points="1059,275 1064,267 1069,275"/>
<polygon points="536,312 541,304 546,312"/>
<polygon points="576,312 581,304 586,312"/>
<polygon points="1264,350 1269,342 1274,350"/>
<polygon points="817,385 822,377 827,385"/>
<polygon points="858,385 863,377 868,385"/>
<polygon points="173,452 178,444 183,452"/>
<polygon points="455,451 460,443 465,451"/>
<polygon points="737,451 742,443 747,451"/>
<polygon points="1059,525 1064,517 1069,525"/>
<polygon points="616,562 621,554 626,562"/>
<polygon points="1180,562 1185,554 1190,562"/>
<polygon points="697,636 702,628 707,636"/>
<polygon points="1221,636 1226,628 1231,636"/>
<polygon points="133,672 138,664 143,672"/>
<polygon points="415,672 420,664 425,672"/>
<polygon points="1019,672 1024,664 1029,672"/>
<polygon points="616,279 626,279 621,287"/>
</g>

<!-- ===== LEGEND ===== -->
<g class="lg">
<text x="64" y="716">＊</text>
<polygon points="76,711 82,705 117,705 123,711 117,717 82,717" fill="#996600"/>
<text x="99.5" y="715" font-size="9" text-anchor="middle" style="fill:#fff;font-weight:bold">帯広</text>
<text x="128" y="716" textLength="87" lengthAdjust="spacingAndGlyphs">は、ばんえい競馬。</text>
<text x="236" y="716" textLength="164" lengthAdjust="spacingAndGlyphs"><tspan class="st">★</tspan>はナイター競馬。☆は薄暮競馬。</text>
<text x="470" y="716" textLength="305" lengthAdjust="spacingAndGlyphs">大井競馬の12/29～12/31は昼間開催。高知競馬の12/31は薄暮開催。</text>

<text x="64" y="731">＊</text>
<rect x="83" y="721" width="37" height="11" fill="#fff" stroke="#0000ff" stroke-width="1.2"/>
<text x="101.5" y="730" font-size="9" text-anchor="middle">競走名</text>
<text x="128" y="731" textLength="309" lengthAdjust="spacingAndGlyphs">は、ダートグレード競走(DG)、重賞競走(重賞)、各シリーズ競走。</text>
<rect x="467" y="721" width="48" height="11" fill="#595959"/>
<text x="491" y="730" font-size="9" text-anchor="middle" style="fill:#fff;font-weight:bold">競走名</text>
<text x="527" y="731" textLength="870" lengthAdjust="spacingAndGlyphs">は、JRAネット投票×地方競馬発売日におけるダートグレード競走(DG)、重賞競走(重賞)等の基幹競走。 (略称)グランダムジャパン2018:GDJ　2018ヤングジョッキーズシリーズ:YJS</text>

<text x="64" y="746" textLength="86" lengthAdjust="spacingAndGlyphs" style="fill:#f00">＊12/25～12/26</text>
<circle cx="152" cy="742" r="6.3" class="gy"/>
<text x="167" y="746" textLength="133" lengthAdjust="spacingAndGlyphs" style="fill:#f00">は浦和と大井の両方を発売。</text>
<text x="1030" y="746" textLength="105" lengthAdjust="spacingAndGlyphs">ファイナルラウンド:FR</text>

<text x="64" y="761" textLength="116" lengthAdjust="spacingAndGlyphs">＊丸印は場外発売日。</text>
<circle cx="186" cy="757" r="5.5" class="br"/><text x="197" y="761" textLength="48" lengthAdjust="spacingAndGlyphs">:ばんえい</text>
<circle cx="268" cy="757" r="5.5" class="pu"/><text x="276" y="761" textLength="25" lengthAdjust="spacingAndGlyphs">:門別</text>
<circle cx="334" cy="757" r="5.5" class="bl"/><text x="344" y="761" textLength="56" lengthAdjust="spacingAndGlyphs">:盛岡・水沢</text>
<circle cx="430" cy="757" r="5.5" class="gy"/><text x="440" y="761" textLength="110" lengthAdjust="spacingAndGlyphs">:浦和・船橋・大井・川崎</text>
<circle cx="597" cy="757" r="5.5" class="cy"/><text x="606" y="761" textLength="26" lengthAdjust="spacingAndGlyphs">:金沢</text>
<circle cx="648" cy="757" r="5.5" class="pk"/><text x="656" y="761" textLength="28" lengthAdjust="spacingAndGlyphs">:笠松</text>
<circle cx="717" cy="757" r="5.5" class="gr"/><text x="726" y="761" textLength="38" lengthAdjust="spacingAndGlyphs">:名古屋</text>
<circle cx="800" cy="757" r="5.5" class="lv"/><text x="808" y="761" textLength="54" lengthAdjust="spacingAndGlyphs">:園田・姫路</text>
<circle cx="899" cy="757" r="5.5" class="or"/><text x="907" y="761" textLength="28" lengthAdjust="spacingAndGlyphs">:高知</text>
<circle cx="968" cy="757" r="5.5" class="rd"/><text x="977" y="761" textLength="26" lengthAdjust="spacingAndGlyphs">:佐賀</text>

<text x="64" y="776" textLength="578" lengthAdjust="spacingAndGlyphs">＊競馬開催及び場間場外発売日程、発売レース数は変更される場合がありますので、詳細は必ず主催者にご確認ください。</text>
<text x="664" y="776" textLength="334" lengthAdjust="spacingAndGlyphs">地方競馬公式ホームページ(http://www.keiba.go.jp)もご利用ください。</text>
</g>

<!-- ===== TITLE 2 ===== -->
<text class="ti" x="63" y="808">■平成30年</text>
<text class="ti" x="168" y="808" textLength="292" lengthAdjust="spacingAndGlyphs">JRAネット投票×地方競馬発売日程表</text>
<text class="ti" x="492" y="808">12</text>
<text class="ti" x="524" y="808">月</text>
<line x1="60" y1="812" x2="560" y2="812" stroke="#000" stroke-width="1.2"/>

<!-- ===== BOTTOM TABLE ===== -->
<rect x="60" y="816" width="1365" height="167" fill="#fff"/>
<rect x="60" y="816" width="58" height="167" fill="#f2f2f2"/>
<rect x="1366" y="816" width="59" height="167" fill="#f2f2f2"/>
<g fill="#ffcdf9">
<rect x="118" y="833" width="80.5" height="150"/><rect x="399.9" y="833" width="80.5" height="150"/><rect x="681.8" y="833" width="80.5" height="150"/><rect x="963.7" y="833" width="120.8" height="150"/><rect x="1205.3" y="833" width="40.3" height="150"/>
</g>
<g fill="#ffff99">
<rect x="520.7" y="833" width="120.8" height="150"/><rect x="802.6" y="833" width="80.5" height="150"/><rect x="1165" y="833" width="40.3" height="150"/><rect x="1245.6" y="833" width="40.3" height="150"/>
</g>
<rect x="118" y="817" width="1248" height="16" fill="#fa9b6b"/>
<text x="684" y="829" font-size="12.5" font-weight="bold" textLength="116" lengthAdjust="spacing">平 成 30 年 12月</text>
<path d="M158.3 833V983M198.5 833V983M238.8 833V983M279.1 833V983M319.4 833V983M359.6 833V983M399.9 833V983M440.2 833V983M480.4 833V983M520.7 833V983M561 833V983M601.2 833V983M641.5 833V983M681.8 833V983M722.1 833V983M762.3 833V983M802.6 833V983M842.9 833V983M883.1 833V983M923.4 833V983M963.7 833V983M1003.9 833V983M1044.2 833V983M1084.5 833V983M1124.7 833V983M1165 833V983M1205.3 833V983M1245.6 833V983M1285.8 833V983M1326.1 833V983" stroke="#000" stroke-width="1" fill="none"/>
<path d="M118 833.5H1366M118 848.5H1366M118 884H1366M118 904H1366M118 924H1366M118 944H1366M118 964H1366" stroke="#000" stroke-width="1" fill="none"/>
<path d="M60 864H1425M118 816V983M1366 816V983" stroke="#000" stroke-width="2.6" fill="none"/>
<rect x="60" y="816" width="1365" height="167" fill="none" stroke="#000" stroke-width="3"/>
<g class="lb"><text x="89" y="844">区分</text><text x="1396" y="844">区分</text><text x="89" y="926">発売場</text><text x="1396" y="926">発売場</text></g>

<g class="dn" transform="translate(0,845)">
<text class="sa" x="138">1</text><text class="su" x="178">2</text><text x="219">3</text><text x="259">4</text><text x="299">5</text><text x="340">6</text><text x="380">7</text><text class="sa" x="420">8</text><text class="su" x="460">9</text><text x="501">10</text><text x="541">11</text><text x="581">12</text><text x="621">13</text><text x="662">14</text><text class="sa" x="702">15</text><text class="su" x="742">16</text><text x="782">17</text><text x="823">18</text><text x="863">19</text><text x="903">20</text><text x="944">21</text><text class="sa" x="984">22</text><text class="su" x="1024">23</text><text class="su" x="1064">24</text><text x="1105">25</text><text x="1145">26</text><text x="1185">27</text><text x="1225">28</text><text class="sa" x="1266">29</text><text class="su" x="1306">30</text><text x="1346">31</text>
<g font-size="11"><text class="sa" x="138" y="15">土</text><text class="su" x="178" y="15">日</text><text x="219" y="15">月</text><text x="259" y="15">火</text><text x="299" y="15">水</text><text x="340" y="15">木</text><text x="380" y="15">金</text><text class="sa" x="420" y="15">土</text><text class="su" x="460" y="15">日</text><text x="501" y="15">月</text><text x="541" y="15">火</text><text x="581" y="15">水</text><text x="621" y="15">木</text><text x="662" y="15">金</text><text class="sa" x="702" y="15">土</text><text class="su" x="742" y="15">日</text><text x="782" y="15">月</text><text x="823" y="15">火</text><text x="863" y="15">水</text><text x="903" y="15">木</text><text x="944" y="15">金</text><text class="sa" x="984" y="15">土</text><text class="su" x="1024" y="15">祝日</text><text class="su" x="1064" y="15">振月</text><text x="1105" y="15">火</text><text x="1145" y="15">水</text><text x="1185" y="15">木</text><text x="1225" y="15">金</text><text class="sa" x="1266" y="15">土</text><text class="su" x="1306" y="15">日</text><text x="1346" y="15">月</text></g>
</g>

<g>
<g class="bl"><rect x="119" y="867" width="38" height="13.5"/><rect x="401" y="867" width="38" height="13.5"/><rect x="683" y="867" width="38" height="13.5"/><rect x="723" y="867" width="38" height="13.5"/><rect x="965" y="867" width="38" height="13.5"/><rect x="1005" y="867" width="38" height="13.5"/><rect x="1045" y="867" width="38" height="13.5"/></g>
<g class="wt" style="font-size:11px"><text x="138" y="878">水沢</text><text x="420" y="878">水沢</text><text x="702" y="878">水沢</text><text x="742" y="878">水沢</text><text x="984" y="878">水沢</text><text x="1024" y="878">水沢</text><text x="1064" y="878">水沢</text></g>
<g class="cy"><rect x="159" y="867" width="38" height="13.5"/><rect x="441" y="867" width="38" height="13.5"/><rect x="522" y="887" width="38" height="13.5"/><rect x="723" y="887" width="38" height="13.5"/><rect x="804" y="887" width="38" height="13.5"/><rect x="1045" y="907" width="38" height="13.5"/><rect x="1166" y="887" width="38" height="13.5"/></g>
<g class="ks"><text x="178" y="878">金沢</text><text x="460" y="878">金沢</text><text x="541" y="898">金沢</text><text x="742" y="898">金沢</text><text x="823" y="898">金沢</text><text x="1064" y="918">金沢</text><text x="1185" y="898">金沢</text></g>
<g class="or"><rect x="119" y="887" width="38" height="13.5"/><rect x="159" y="887" width="38" height="13.5"/><rect x="401" y="887" width="38" height="13.5"/><rect x="441" y="887" width="38" height="13.5"/><rect x="683" y="887" width="38" height="13.5"/><rect x="1206" y="867" width="38" height="13.5"/></g>
<g class="ks"><text x="138" y="898"><tspan class="st">★</tspan>高知</text><text x="178" y="898"><tspan class="st">★</tspan>高知</text><text x="420" y="898"><tspan class="st">★</tspan>高知</text><text x="460" y="898"><tspan class="st">★</tspan>高知</text><text x="702" y="898"><tspan class="st">★</tspan>高知</text><text x="1225" y="878"><tspan class="st">★</tspan>高知</text></g>
<g class="rd"><rect x="119" y="907" width="38" height="13.5"/><rect x="159" y="907" width="38" height="13.5"/><rect x="401" y="907" width="38" height="13.5"/><rect x="441" y="907" width="38" height="13.5"/><rect x="522" y="947" width="38" height="13.5"/><rect x="723" y="907" width="38" height="13.5"/><rect x="1005" y="887" width="38" height="13.5"/><rect x="1045" y="947" width="38" height="13.5"/></g>
<g class="wt" style="font-size:10.5px"><text x="138" y="918">☆佐賀</text><text x="178" y="918">☆佐賀</text><text x="420" y="918">☆佐賀</text><text x="460" y="918">☆佐賀</text><text x="541" y="958">☆佐賀</text><text x="742" y="918">☆佐賀</text><text x="1024" y="898">☆佐賀</text><text x="1064" y="958">☆佐賀</text></g>
<g class="dg"><rect x="522" y="867" width="38" height="13.5"/><rect x="562" y="867" width="38" height="13.5"/><rect x="602" y="867" width="38" height="13.5"/><rect x="804" y="867" width="38" height="13.5"/><rect x="844" y="867" width="38" height="13.5"/><rect x="1045" y="887" width="38" height="13.5"/><rect x="1166" y="867" width="38" height="13.5"/><rect x="1247" y="867" width="38" height="13.5"/></g>
<g class="wt" style="font-size:10.5px"><text x="541" y="878"><tspan class="st">★</tspan>船橋</text><text x="581" y="878"><tspan class="st">★</tspan>船橋</text><text x="621" y="878"><tspan class="st">★</tspan>船橋</text><text x="823" y="878"><tspan class="st">★</tspan>川崎</text><text x="863" y="878"><tspan class="st">★</tspan>川崎</text><text x="1064" y="898">浦和</text><text x="1185" y="878"><tspan class="st">★</tspan>大井</text><text x="1266" y="878">大井</text></g>
<g class="pk"><rect x="522" y="907" width="38" height="13.5"/><rect x="562" y="887" width="38" height="13.5"/><rect x="602" y="887" width="38" height="13.5"/><rect x="1247" y="887" width="38" height="13.5"/></g>
<g class="ks"><text x="541" y="918">笠松</text><text x="581" y="898">笠松</text><text x="621" y="898">笠松</text><text x="1266" y="898">笠松</text></g>
<g class="lv"><rect x="522" y="927" width="38" height="13.5"/><rect x="562" y="907" width="38" height="13.5"/><rect x="602" y="907" width="38" height="13.5"/><rect x="804" y="907" width="38" height="13.5"/><rect x="844" y="907" width="38" height="13.5"/><rect x="1166" y="907" width="38" height="13.5"/><rect x="1247" y="907" width="38" height="13.5"/></g>
<g class="ks"><text x="541" y="938">園田</text><text x="581" y="918">園田</text><text x="621" y="918">園田</text><text x="823" y="918">園田</text><text x="863" y="918">園田</text><text x="1185" y="918">園田</text><text x="1266" y="918">園田</text></g>
<g class="gr"><rect x="844" y="887" width="38" height="13.5"/><rect x="1045" y="927" width="38" height="13.5"/></g>
<g class="ks" style="font-size:10px"><text x="863" y="898">名古屋</text><text x="1064" y="938">名古屋</text></g>
</g>

<g class="lg">
<text x="63" y="995" textLength="167" lengthAdjust="spacingAndGlyphs"><tspan class="st">★</tspan>はナイター競馬。☆は薄暮競馬。</text>
<rect x="284" y="985" width="30" height="12" fill="#ffff99" stroke="#000" stroke-width="0.8"/>
<text x="322" y="995" textLength="146" lengthAdjust="spacingAndGlyphs">は即PATがご利用になれる日。</text>
<rect x="487" y="985" width="30" height="12" fill="#ffcdf9" stroke="#000" stroke-width="0.8"/>
<text x="525" y="995" textLength="193" lengthAdjust="spacingAndGlyphs">は、即PAT、A-PATがご利用になれる日。</text>
<text x="63" y="1010" textLength="434" lengthAdjust="spacingAndGlyphs">＊JRAネット投票×地方競馬発売の日程は変更となる場合がありますので、ご注意ください。</text>
<text x="513" y="1010" textLength="405" lengthAdjust="spacingAndGlyphs">JRAネット投票×地方競馬特設サイト(http://www.keiba.go.jp/ipat/)もご利用ください。</text>
</g>

<text x="975" y="1045" font-size="13" textLength="488" lengthAdjust="spacingAndGlyphs">Copyright(C) 2018 NAR(The National Association of Racing).All Rights Reserved.</text>
</svg>
</body></html>
